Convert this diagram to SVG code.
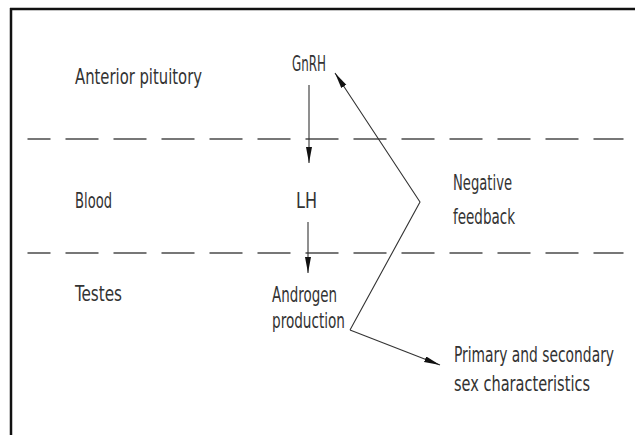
<svg xmlns="http://www.w3.org/2000/svg" width="635" height="435" viewBox="0 0 635 435">
<style>
.t{font-family:"Liberation Sans Narrow","DejaVu Sans Condensed","Liberation Sans",Arial,sans-serif;font-size:22px;fill:#333}
.dash{stroke:#777;stroke-width:2.2;stroke-dasharray:33 15;stroke-dashoffset:10;fill:none}
.ln{stroke:#333;stroke-width:1.1;fill:none}
.arr{marker-end:url(#ah)}
</style>
<defs>
<marker id="ah" markerUnits="userSpaceOnUse" markerWidth="17" markerHeight="7" refX="16" refY="3" orient="auto">
<path d="M0,0 L16,3 L0,6 z" fill="#111"/>
</marker>
</defs>
<rect width="635" height="435" fill="#fff"/>
<g id="frame">
<line x1="10" y1="9" x2="635" y2="9" stroke="#111" stroke-width="2.5"/>
<line x1="11" y1="8" x2="11" y2="435" stroke="#111" stroke-width="2.5"/>
</g>
<g id="dividers">
<line class="dash" x1="27.5" y1="139" x2="623.5" y2="139"/>
<line class="dash" x1="27.5" y1="253" x2="623.5" y2="253"/>
</g>
<g id="labels">
<text class="t" x="75" y="84" textLength="127" lengthAdjust="spacingAndGlyphs">Anterior pituitory</text>
<text class="t" x="75" y="208" textLength="37" lengthAdjust="spacingAndGlyphs">Blood</text>
<text class="t" x="75" y="301" textLength="47" lengthAdjust="spacingAndGlyphs">Testes</text>
</g>
<g id="gnrh"><text class="t" x="292" y="71" textLength="34" lengthAdjust="spacingAndGlyphs">GnRH</text></g>
<g id="lh"><text class="t" x="296" y="208" textLength="21" lengthAdjust="spacingAndGlyphs">LH</text></g>
<g id="androgen">
<text class="t" x="272" y="302" textLength="65" lengthAdjust="spacingAndGlyphs">Androgen</text>
<text class="t" x="272" y="328" textLength="73" lengthAdjust="spacingAndGlyphs">production</text>
</g>
<g id="feedback">
<text class="t" x="453" y="190" textLength="59" lengthAdjust="spacingAndGlyphs">Negative</text>
<text class="t" x="453" y="224" textLength="62" lengthAdjust="spacingAndGlyphs">feedback</text>
</g>
<g id="characteristics">
<text class="t" transform="translate(454,362) scale(0.7,1)" x="0" y="0" textLength="228.6" lengthAdjust="spacingAndGlyphs">Primary and secondary</text>
<text class="t" transform="translate(454,391) scale(0.7,1)" x="0" y="0" textLength="194.3" lengthAdjust="spacingAndGlyphs">sex characteristics</text>
</g>
<g id="connectors">
<line class="ln arr" x1="309" y1="85" x2="309" y2="163"/>
<line class="ln arr" x1="308" y1="222" x2="308" y2="273"/>
<polyline class="ln arr" points="350,330 420,202 335,73"/>
<line class="ln arr" x1="350" y1="330" x2="440" y2="365"/>
</g>
</svg>
